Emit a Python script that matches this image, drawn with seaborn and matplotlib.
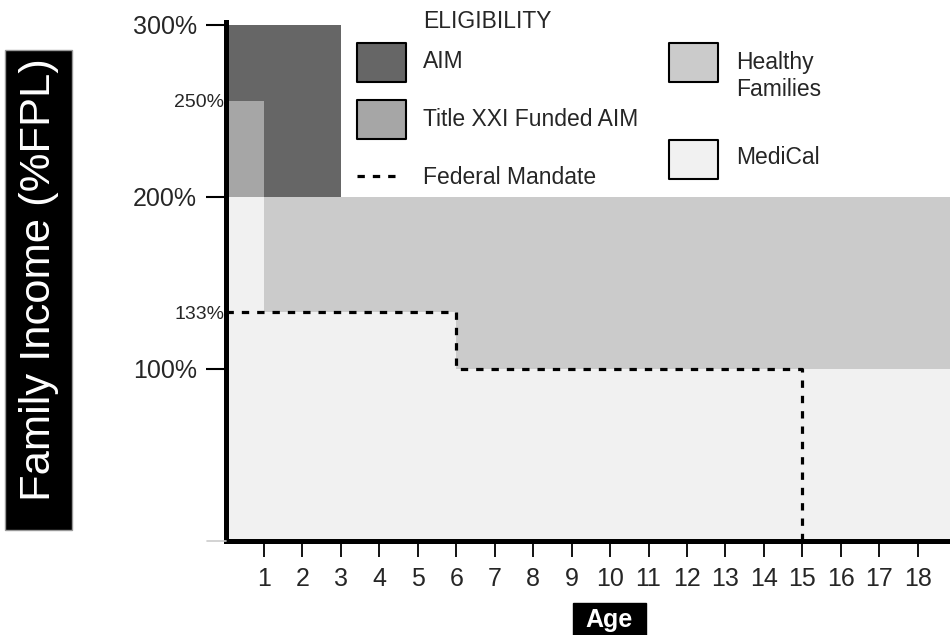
import matplotlib
matplotlib.use("Agg")
import matplotlib.pyplot as plt
from matplotlib.patches import Rectangle
from matplotlib.lines import Line2D
import seaborn as sns
import pandas as pd

# eligibility bands (age in years, income in %FPL)
medical_age = [0, 1, 6, 19]
medical_top = [200, 133, 100, 100]

hf_age = [1, 6, 19]
hf_bottom = [133, 100, 100]
hf_top = [200, 200, 200]

aim_age = [0, 3]
aim_bottom = [200, 200]
aim_top = [300, 300]

t21_age = [0, 1]
t21_bottom = [200, 200]
t21_top = [256, 256]

fed_age = [0, 6, 15]
fed_level = [133, 100, 0]

age_ticks = list(range(1, 19))
income_ticks = [100, 200, 300]
income_labels = ["100%", "200%", "300%"]
small_ticks = [133, 256]
small_labels = ["133%", "250%"]

c_aim = "#666666"
c_t21 = "#a6a6a6"
c_hf = "#cbcbcb"
c_medi = "#f1f1f1"

sns.set_style("white")
plt.rcParams["font.family"] = ["Liberation Sans", "DejaVu Sans"]

W, H = 950, 635
fig = plt.figure(figsize=(W / 100, H / 100), dpi=100)
ax = fig.add_axes([225.5 / W, (H - 541) / H, (W - 225.5) / W, (541 - 22) / H])

# shaded regions
ax.fill_between(medical_age, 0, medical_top, step="post", color=c_medi, lw=0, zorder=1)
ax.fill_between(hf_age, hf_bottom, hf_top, step="post", color=c_hf, lw=0, zorder=1)
ax.fill_between(aim_age, aim_bottom, aim_top, step="post", color=c_aim, lw=0, zorder=1)
ax.fill_between(t21_age, t21_bottom, t21_top, step="post", color=c_t21, lw=0, zorder=2)

# federal mandate line
fed = pd.DataFrame({"age": fed_age, "level": fed_level})
sns.lineplot(data=fed, x="age", y="level", ax=ax, color="black", lw=2.3,
             drawstyle="steps-post", linestyle=(0, (2.3, 2.5)), zorder=3,
             clip_on=False)

ax.set_xlim(0, 18.84)
ax.set_ylim(0, 301.7)
ax.set_xlabel("")
ax.set_ylabel("")

ax.set_xticks(age_ticks)
ax.set_xticklabels([str(a) for a in age_ticks])
ax.set_yticks(income_ticks)
ax.set_yticklabels(income_labels)
ax.set_yticks(small_ticks, minor=True)
ax.set_yticklabels(small_labels, minor=True)

ax.tick_params(axis="x", which="major", direction="out", length=11.5, width=1.3,
               color="black", labelsize=18, pad=7, bottom=True)
ax.tick_params(axis="y", which="major", direction="out", length=14.4, width=1.5,
               color="black", labelsize=18, pad=6, left=True)
ax.tick_params(axis="y", which="minor", length=0, labelsize=14, pad=1, left=True)

for side in ["top", "right"]:
    ax.spines[side].set_visible(False)
for side in ["left", "bottom"]:
    ax.spines[side].set_linewidth(3.6)
    ax.spines[side].set_color("black")
    ax.spines[side].set_zorder(5)
ax.set_facecolor("white")


def fx(px):
    return px / W


def fy(py):
    return 1 - py / H


# faint tick at the origin
fig.add_artist(Line2D([fx(207), fx(226)], [fy(541), fy(541)],
                      transform=fig.transFigure, color="#cccccc", lw=1.2))

# legend drawn by hand in pixel positions
fs = 16.5
fig.text(fx(423), fy(22), "ELIGIBILITY", fontsize=fs, va="center", ha="left")
legend_boxes = [
    (357, 43, c_aim, "AIM", 423, 62),
    (357, 100, c_t21, "Title XXI Funded AIM", 423, 119),
    (669, 43, c_hf, "Healthy\nFamilies", 736, 76),
    (669, 140, c_medi, "MediCal", 736, 157),
]
for x0, y0, col, lab, tx, ty in legend_boxes:
    fig.add_artist(Rectangle((fx(x0), fy(y0 + 39)), 49 / W, 39 / H,
                             transform=fig.transFigure, facecolor=col,
                             edgecolor="black", lw=1.5, joinstyle="round"))
    fig.text(fx(tx), fy(ty), lab, fontsize=fs, va="center", ha="left",
             linespacing=1.2)
fig.add_artist(Line2D([fx(357), fx(401)], [fy(176), fy(176)],
                      transform=fig.transFigure, color="black", lw=2.3,
                      linestyle=(0, (2.3, 2.5))))
fig.text(fx(423), fy(177), "Federal Mandate", fontsize=fs, va="center", ha="left")

# axis titles in black boxes
fig.add_artist(Rectangle((fx(5), fy(530)), 67 / W, 480 / H, transform=fig.transFigure,
                         facecolor="black", edgecolor="#999999", lw=1))
fig.text(fx(39), fy(280), "Family Income (%FPL)", fontsize=31.3, color="white",
         rotation=90, ha="center", va="center")
fig.add_artist(Rectangle((fx(573), fy(640)), 73 / W, 37 / H, transform=fig.transFigure,
                         facecolor="black", edgecolor="black", lw=1))
fig.text(fx(609.5), fy(620), "Age", fontsize=18, fontweight="bold", color="white",
         ha="center", va="center")

fig.savefig("out.png", dpi=100, facecolor="white")
